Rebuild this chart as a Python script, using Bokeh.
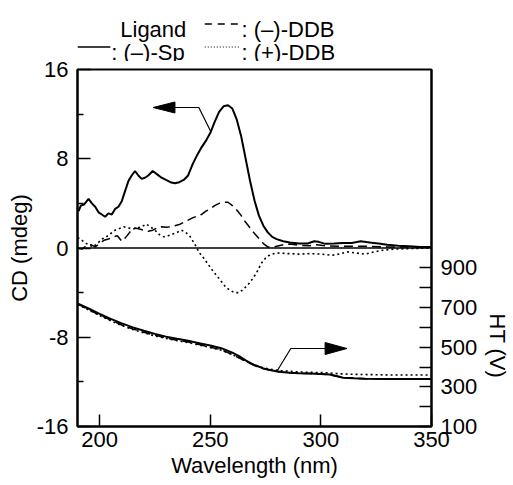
from bokeh.plotting import figure
from bokeh.layouts import column
from bokeh.models import (Range1d, LinearAxis, FixedTicker, Span, Title, CustomJSTickFormatter)
from bokeh.core.properties import value
from bokeh.embed import file_html
from bokeh.resources import INLINE

# ---------------- data ----------------
# CD spectrum, (-)-Sp (solid)
wl_sp = [190.5, 191.5, 193, 195, 196.5, 198, 199.5, 201, 202.5, 204, 205.5, 207, 208.5, 210,
         211.5, 213, 214.5, 216, 217.5, 219, 220.5, 222, 224, 226, 228, 230, 232, 234, 236,
         238, 240, 242, 244, 246, 248, 250, 252, 254, 256, 258, 260, 262, 264, 266, 268, 270,
         272, 274, 276, 278, 280, 283, 286, 290, 294, 297, 299, 302, 306, 310, 314, 318, 322,
         326, 330, 335, 340, 345, 350]
cd_sp = [3.3, 3.8, 3.9, 4.4, 4.0, 3.7, 3.2, 3.0, 2.8, 3.1, 3.0, 3.5, 3.7, 4.2,
         5.1, 6.0, 6.5, 6.9, 6.5, 6.2, 6.3, 6.5, 6.9, 6.6, 6.3, 6.1, 5.9, 5.8, 5.9,
         6.1, 6.5, 7.5, 8.3, 9.0, 9.6, 10.3, 11.3, 12.2, 12.7, 12.8, 12.5, 11.5, 10.0, 8.0, 6.0, 4.25,
         2.9, 2.0, 1.4, 1.0, 0.8, 0.6, 0.5, 0.4, 0.4, 0.6, 0.55, 0.37, 0.4, 0.45, 0.45, 0.6, 0.5,
         0.4, 0.3, 0.2, 0.15, 0.1, 0.1]

# CD spectrum, (-)-DDB (dashed)
wl_dm = [190, 192, 194, 196, 198, 200, 202, 204, 206, 208, 210, 212, 214, 216, 218, 220, 222,
         224, 226, 228, 230, 232, 234, 236, 238, 240, 242, 244, 246, 248, 250, 252, 254, 256,
         258, 260, 262, 264, 266, 268, 270, 272, 274, 276, 278, 280, 283, 286, 290, 295, 298,
         302, 310, 320, 330, 340, 350]
cd_dm = [0.0, -0.1, 0.2, 0.3, 0.1, 0.4, 0.7, 0.8, 1.0, 1.1, 0.6, 1.0, 1.5, 1.8, 1.7, 1.6, 1.5,
         1.6, 1.8, 1.9, 1.85, 1.9, 2.0, 2.1, 2.3, 2.5, 2.7, 2.85, 3.0, 3.3, 3.5, 3.8, 4.0, 4.1,
         4.1, 3.8, 3.4, 2.9, 2.3, 1.8, 1.3, 0.85, 0.4, 0.1, 0.05, 0.15, 0.3, 0.35, 0.25, 0.2, 0.3,
         0.2, 0.15, 0.15, 0.1, 0.1, 0.1]

# CD spectrum, (+)-DDB (dotted)
wl_dp = [190, 191.5, 193, 195, 197, 199, 201, 203, 205, 207, 209, 211, 213, 215, 217, 219, 221,
         223, 225, 227, 229, 231, 233, 235, 237, 239, 241, 243, 245, 247, 249, 251, 253, 255,
         257, 259, 261, 263, 265, 267, 269, 271, 273, 275, 277, 280, 285, 290, 295, 300, 305,
         308, 312, 316, 320, 324, 328, 333, 340, 350]
cd_dp = [0.9, 0.8, 0.5, 0.3, 0.1, 0.4, 0.8, 1.0, 1.3, 1.6, 1.75, 1.9, 1.8, 1.7, 1.8, 1.9, 2.15,
         1.9, 1.6, 1.2, 1.0, 1.1, 1.25, 1.4, 1.6, 1.4, 1.0, 0.35, -0.4, -0.9, -1.45, -2.0, -2.5, -3.0,
         -3.5, -3.8, -4.0, -4.0, -3.7, -3.3, -2.8, -2.2, -1.4, -0.9, -0.6, -0.45, -0.5, -0.55, -0.5,
         -0.55, -0.65, -0.55, -0.35, -0.45, -0.55, -0.35, -0.2, -0.1, -0.05, 0.0]

# HT (V) traces
wl_ht = [190, 195, 200, 205, 210, 215, 220, 225, 230, 235, 240, 245, 250, 255, 260, 263, 266,
         270, 274, 278, 282, 286, 290, 295, 300, 304, 308, 310, 315, 320, 330, 340, 350]
ht_sp = [720, 695, 668, 643, 620, 600, 583, 567, 553, 542, 532, 520, 508, 495, 472, 455, 433,
         410, 393, 382, 375, 371, 368, 367, 365, 362, 352, 346, 343, 341, 340, 340, 340]
ht_dm = [718, 690, 662, 636, 612, 592, 575, 560, 547, 535, 526, 513, 500, 487, 462, 446, 428,
         407, 391, 381, 375, 371, 368, 367, 365, 361, 351, 346, 343, 341, 340, 340, 340]
ht_dp = [716, 688, 660, 633, 609, 589, 572, 557, 544, 533, 523, 511, 498, 485, 462, 447, 430,
         410, 396, 387, 382, 378, 375, 373, 372, 370, 366, 365, 363, 362, 360, 360, 360]

x_ticks = [200, 250, 300, 350]
cd_major = [-16, -8, 0, 8, 16]
cd_minor = [-12, -4, 4, 12]
ht_ticks = [100, 200, 300, 400, 500, 600, 700, 800, 900]

legend_labels = ["Ligand", ": (\u2013)-DDB", ": (\u2013)-Sp", ": (+)-DDB"]

# ---------------- layout (page pixels) ----------------
W, H = 513, 485
LEG_H = 61                      # height of the legend strip on top
FL, FT, FW, FH = 77, 69, 356, 357   # main frame on the page
X0, X1, Y0, Y1 = 190, 350, -16, 16
FONT = "Liberation Sans"


def px2x(px):
    return X0 + (px - FL) * (X1 - X0) / FW


def py2y(py):
    return Y1 - (py - FT) * (Y1 - Y0) / FH


# ---------- legend strip (same horizontal frame as the chart) ----------
lf = figure(width=W, height=LEG_H, x_range=Range1d(X0, X1), y_range=Range1d(LEG_H, 0),
            output_backend="svg", toolbar_location=None,
            min_border_left=FL, min_border_right=W - FL - FW,
            min_border_top=0, min_border_bottom=0,
            x_axis_location=None, y_axis_location=None)
lf.outline_line_color = None
lf.grid.visible = False
lf.background_fill_color = "white"
lf.border_fill_color = "white"
leg_px = [120, 242, 111, 242]
leg_py = [29, 29, 51.5, 51.5]
lf.text(x=[px2x(v) for v in leg_px], y=leg_py, text=legend_labels, text_font=value(FONT),
        text_font_size=value("22px"), text_baseline="alphabetic", text_align="left",
        text_color="black")
lf.line([px2x(77), px2x(110)], [46.5, 46.5], line_color="black", line_width=1.6)
lf.line([px2x(205), px2x(240)], [23.5, 23.5], line_color="black", line_width=1.5, line_dash="7 6")
lf.line([px2x(205), px2x(240)], [46.5, 46.5], line_color="black", line_width=1, line_dash="1 2")

# ---------- main chart ----------
p = figure(width=W, height=H - LEG_H, x_range=Range1d(X0, X1), y_range=Range1d(Y0, Y1),
           output_backend="svg", toolbar_location=None,
           min_border_left=FL, min_border_top=FT - LEG_H,
           min_border_right=W - FL - FW, min_border_bottom=H - FT - FH)
p.extra_y_ranges = {"ht": Range1d(100, 1900)}
p.xgrid.visible = False
p.ygrid.visible = False
p.outline_line_color = "black"
p.outline_line_width = 2
p.outline_line_alpha = 1
p.background_fill_color = "white"
p.border_fill_color = "white"

xa = p.xaxis[0]
ya = p.yaxis[0]
xa.ticker = FixedTicker(ticks=x_ticks, minor_ticks=[])
ya.ticker = FixedTicker(ticks=cd_major, minor_ticks=cd_minor)
ya.formatter = CustomJSTickFormatter(code="return String(tick);")
ra = LinearAxis(y_range_name="ht", ticker=FixedTicker(ticks=ht_ticks, minor_ticks=[]),
                formatter=CustomJSTickFormatter(code="return (tick % 200 === 100) ? String(tick) : '';"))
p.add_layout(ra, "right")

for ax in (xa, ya, ra):
    ax.axis_line_width = 2
    ax.axis_line_color = "black"
    ax.major_tick_line_width = 1.5
    ax.major_tick_line_color = "black"
    ax.minor_tick_line_width = 1.5
    ax.minor_tick_line_color = "black"
    ax.major_tick_in = 12
    ax.major_tick_out = 0
    ax.minor_tick_in = 6
    ax.minor_tick_out = 0
    ax.major_label_text_font = FONT
    ax.major_label_text_font_size = "22px"
    ax.major_label_text_color = "black"
    ax.major_label_standoff = 9
    ax.axis_label_text_font = FONT
    ax.axis_label_text_font_size = "22px"
    ax.axis_label_text_font_style = "normal"
    ax.axis_label_text_color = "black"
xa.major_label_standoff = 5
ya.major_tick_in = 13
ya.axis_label = "CD (mdeg)"
ya.axis_label_standoff = 2
xa.axis_label = "Wavelength (nm)"
xa.axis_label_standoff = 3

# right-hand title for the HT axis, placed over the 100-900 V part
p.add_layout(Title(text="HT (V)", align="left", offset=244, standoff=6,
                   vertical_align="middle", text_font=FONT, text_font_size="22px",
                   text_font_style="normal", text_color="black"), "right")

# zero line
p.add_layout(Span(location=0, dimension="width", line_color="black", line_width=1.5))

# CD curves
p.line(wl_sp, cd_sp, line_color="black", line_width=2)
p.line(wl_dm, cd_dm, line_color="black", line_width=1.5, line_dash="9 5")
p.line(wl_dp, cd_dp, line_color="black", line_width=1.6, line_dash="2 3")

# HT curves
p.line(wl_ht, ht_dp, line_color="black", line_width=1.6, line_dash="2 3", y_range_name="ht")
p.line(wl_ht, ht_dm, line_color="black", line_width=1.5, line_dash="9 5", y_range_name="ht")
p.line(wl_ht, ht_sp, line_color="black", line_width=2, y_range_name="ht")


# pointer arrows (page-pixel positions)
def pointer(path, tip, direction, head_len=22, head_half=5.5):
    xs = [px2x(a) for a, _ in path]
    ys = [py2y(b) for _, b in path]
    p.line(xs, ys, line_color="black", line_width=1.2)
    tx, ty = tip
    bx = tx - direction * head_len
    p.patch([px2x(tx), px2x(bx), px2x(bx)],
            [py2y(ty), py2y(ty - head_half), py2y(ty + head_half)],
            fill_color="black", line_color="black", line_width=1)


pointer([(211, 131), (199, 107), (170, 107)], (153, 107), -1)
pointer([(278, 370), (291.5, 348), (330, 348)], (348, 348), 1, head_half=6)

layout = column(lf, p, spacing=0)
open("out.html", "w").write(file_html(layout, INLINE))
